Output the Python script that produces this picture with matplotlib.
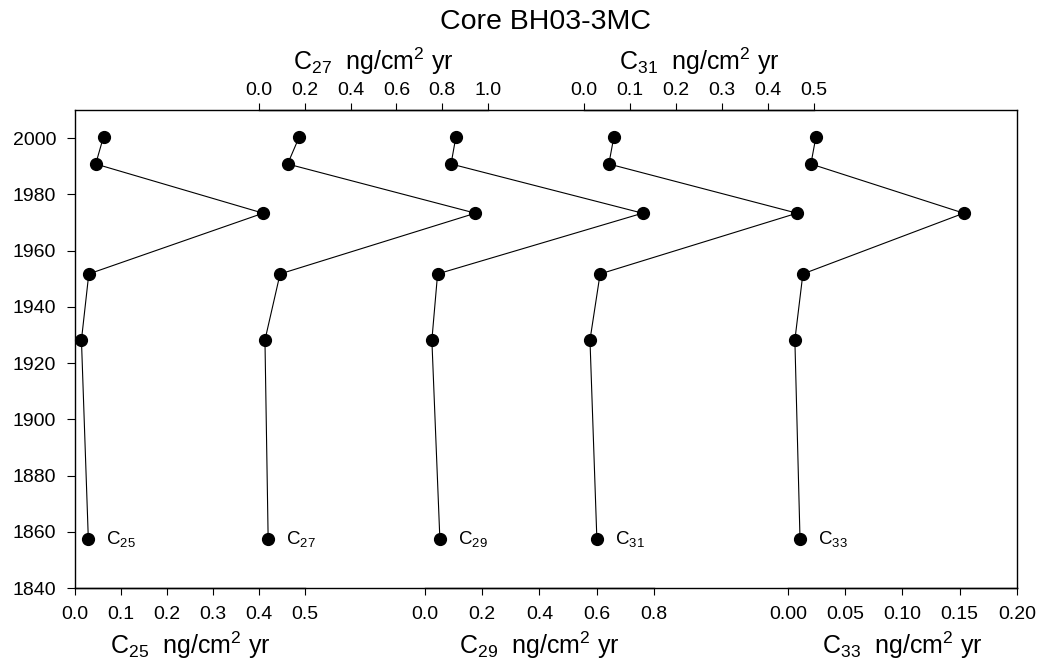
import matplotlib
matplotlib.use("Agg")
import matplotlib.pyplot as plt

plt.rcParams['font.family'] = ['Liberation Sans', 'DejaVu Sans']
plt.rcParams['mathtext.fontset'] = 'custom'
plt.rcParams['mathtext.rm'] = 'Liberation Sans'
plt.rcParams['mathtext.it'] = 'Liberation Sans'

years = [2000.5, 1990.8, 1973.3, 1951.7, 1928.2, 1857.3]
c25 = [0.062, 0.045, 0.409, 0.030, 0.014, 0.029]
c27 = [0.176, 0.125, 0.945, 0.092, 0.026, 0.040]
c29 = [0.108, 0.091, 0.760, 0.044, 0.024, 0.052]
c31 = [0.065, 0.054, 0.463, 0.035, 0.013, 0.028]
c33 = [0.0244, 0.020, 0.1535, 0.013, 0.006, 0.0105]

series_names = ['25', '27', '29', '31', '33']
series_vals = [c25, c27, c29, c31, c33]
axis_max = [0.5, 1.0, 0.8, 0.5, 0.20]
axis_ticks = [[0.0, 0.1, 0.2, 0.3, 0.4, 0.5],
              [0.0, 0.2, 0.4, 0.6, 0.8, 1.0],
              [0.0, 0.2, 0.4, 0.6, 0.8],
              [0.0, 0.1, 0.2, 0.3, 0.4, 0.5],
              [0.00, 0.05, 0.10, 0.15, 0.20]]
tick_fmt = ['%.1f', '%.1f', '%.1f', '%.1f', '%.2f']
axis_side = ['bottom', 'top', 'bottom', 'top', 'bottom']
# pixel extents of each sub-axis (start, end)
axis_px = [(75, 305), (259, 488), (425, 654), (584, 814), (788, 1017)]

W, H = 1046, 666
L, R, T, B = 75, 1017, 110, 588
fig = plt.figure(figsize=(W / 100, H / 100), dpi=100)
pos = [L / W, (H - B) / H, (R - L) / W, (B - T) / H]

ax0 = fig.add_axes(pos)
ax0.set_ylim(1840, 2010)
ax0.set_yticks(range(1840, 2001, 20))
ax0.set_xticks([])
ax0.tick_params(axis='y', direction='out', length=5.5, width=0.8, labelsize=14, pad=8)
for s in ax0.spines.values():
    s.set_linewidth(1.0)

for i, (name, vals) in enumerate(zip(series_names, series_vals)):
    a, b = axis_px[i]
    vmax = axis_max[i]
    scale = vmax / (b - a)
    ax = fig.add_axes(pos, sharey=ax0)
    ax.patch.set_visible(False)
    ax.set_xlim(-(a - L) * scale, (R - a) * scale)
    side = axis_side[i]
    for k, s in ax.spines.items():
        s.set_visible(k == side)
    ax.spines[side].set_bounds(0, vmax)
    ax.spines[side].set_linewidth(1.0)
    ax.tick_params(axis='y', left=False, labelleft=False)
    ax.set_xticks(axis_ticks[i])
    ax.set_xticklabels([tick_fmt[i] % t for t in axis_ticks[i]])
    if side == 'top':
        ax.xaxis.tick_top()
        ax.xaxis.set_label_position('top')
        pad = 3
    else:
        ax.xaxis.tick_bottom()
        pad = 8
    ax.tick_params(axis='x', direction='out', length=5, width=0.8, labelsize=14, pad=pad)
    ax.set_xlabel(r'C$_{%s}$  ng/cm$^2$ yr' % name, fontsize=18)
    ax.xaxis.set_label_coords(((a + b) / 2 - L) / (R - L),
                              -0.086 if side == 'bottom' else 1.084)
    ax.plot(vals, years, color='black', lw=0.8, marker='o', markersize=8.5,
            markerfacecolor='black', markeredgecolor='black', clip_on=False)
    ax.annotate(r'C$_{%s}$' % name, xy=(vals[-1], years[-1]), xytext=(13, 0),
                textcoords='offset points', fontsize=13.5, va='center', ha='left')

fig.text((L + R) / 2 / W, 1 - 22 / H, 'Core BH03-3MC', fontsize=20.5,
         ha='center', va='center')

fig.savefig('out.png', dpi=100)
